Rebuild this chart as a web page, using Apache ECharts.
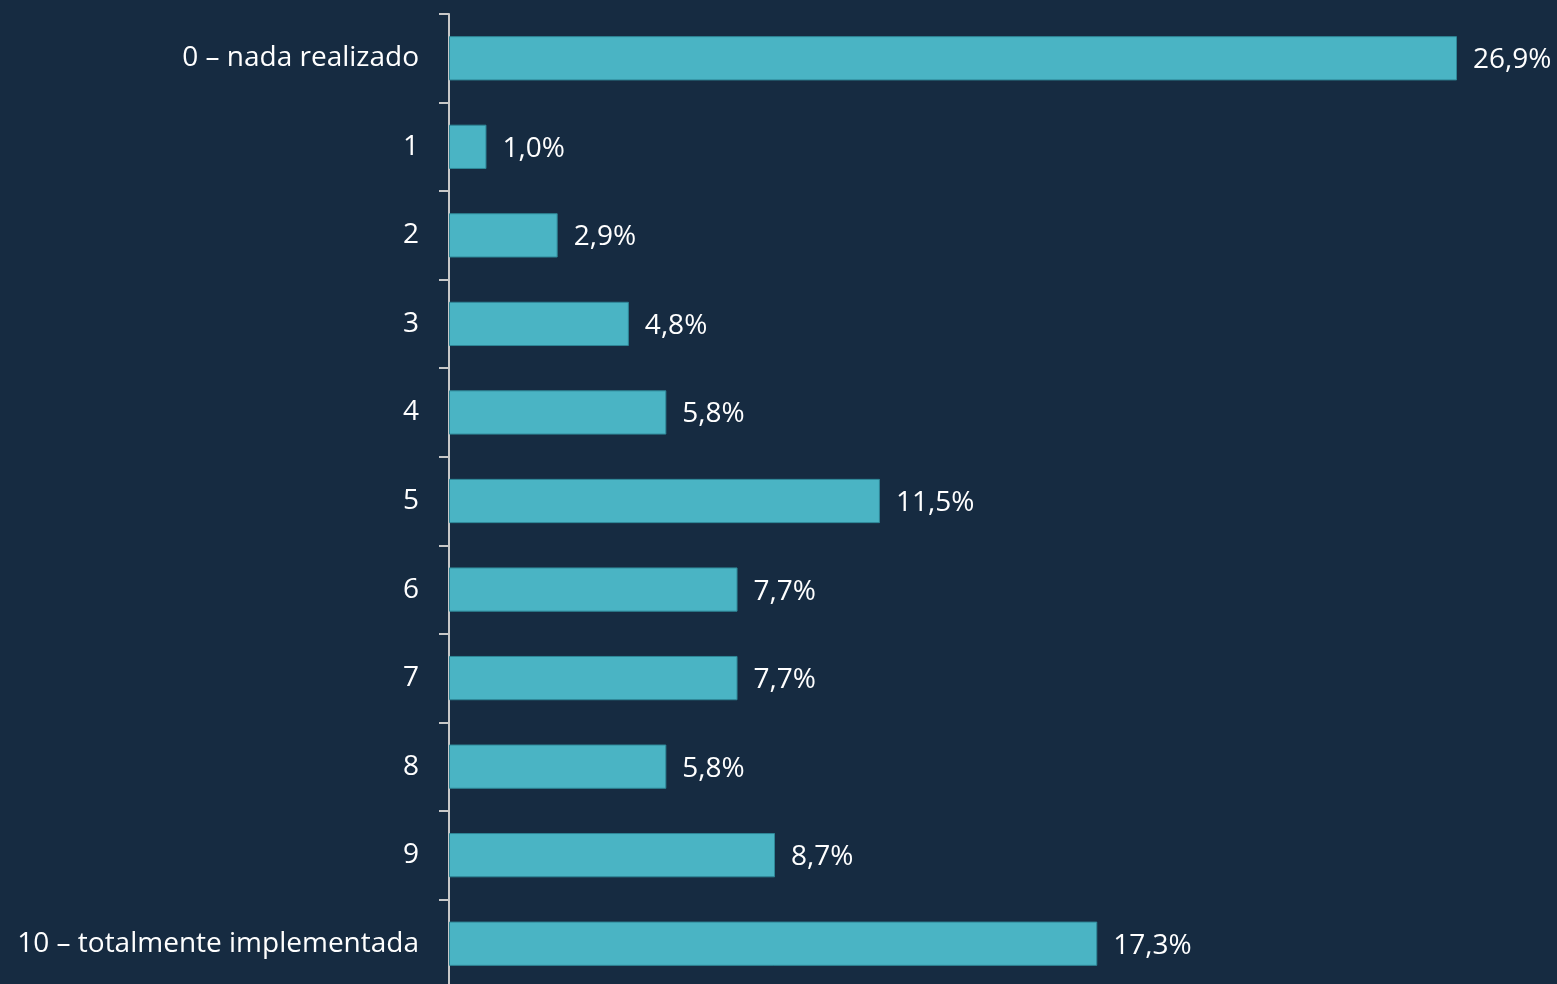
<!DOCTYPE html>
<html>
<head>
<meta charset="utf-8">
<script src="https://cdn.jsdelivr.net/npm/echarts@6/dist/echarts.min.js"></script>
<style>
html,body{margin:0;padding:0;background:#162b41;}
#chart{width:1557px;height:984px;}
</style>
</head>
<body>
<div id="chart"></div>
<script>
const categories = ['0 – nada realizado','1','2','3','4','5','6','7','8','9','10 – totalmente implementada'];
const values = [26.9, 1.0, 2.9, 4.8, 5.8, 11.5, 7.7, 7.7, 5.8, 8.7, 17.3];

const chart = echarts.init(document.getElementById('chart'));
chart.setOption({
  backgroundColor: '#162b41',
  animation: false,
  grid: { left: 449, top: 14, right: 100, height: 974, outerBoundsMode: 'none', containLabel: false },
  xAxis: {
    type: 'value', min: 0, max: 26.9,
    show: false
  },
  yAxis: {
    type: 'category', data: categories, inverse: true,
    axisLine: { show: true, lineStyle: { color: '#c8c8c8', width: 2 } },
    axisTick: { show: true, length: 10, lineStyle: { color: '#c8c8c8', width: 2 } },
    axisLabel: { color: '#ffffff', fontFamily: 'Open Sans', fontSize: 28, margin: 30, padding: [4, 0, 0, 0] }
  },
  series: [{
    type: 'bar',
    data: values,
    barWidth: '50%',
    itemStyle: { color: '#4ab4c4', borderColor: '#2f8797', borderWidth: 1 },
    label: {
      show: true, position: 'right', distance: 16, offset: [0, 2],
      color: '#ffffff', fontFamily: 'Open Sans', fontSize: 28,
      padding: [7, 0, 0, 0],
      formatter: p => p.value.toFixed(1).replace('.', ',') + '%'
    }
  }]
});
</script>
</body>
</html>
